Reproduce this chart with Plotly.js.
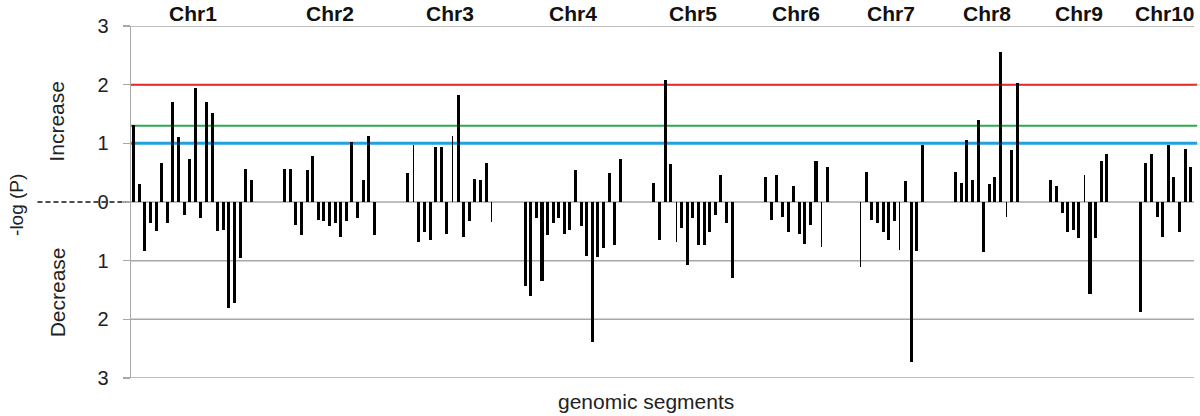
<!DOCTYPE html>
<html>
<head>
<meta charset="utf-8">
<script src="https://cdn.plot.ly/plotly-3.0.1.min.js"></script>
<style>
  html, body { margin: 0; padding: 0; background: #ffffff; }
  #chart { width: 1200px; height: 416px; }
</style>
</head>
<body>
<div id="chart"></div>
<script>
// ---- Data: signed -log(P) per genomic segment (positive = increase, negative = decrease)
const chromosomes = ['Chr1', 'Chr2', 'Chr3', 'Chr4', 'Chr5', 'Chr6', 'Chr7', 'Chr8', 'Chr9', 'Chr10'];
const chr1 = [1.31, 0.30, -0.84, -0.36, -0.49, 0.67, -0.36, 1.71, 1.10, -0.23, 0.73, 1.95, -0.28, 1.71, 1.52, -0.49, -0.47, -1.80, -1.72, -0.95, 0.57, 0.38];
const chr2 = [0.57, 0.57, -0.39, -0.57, 0.54, 0.78, -0.31, -0.33, -0.41, -0.36, -0.60, -0.33, 1.02, -0.28, 0.38, 1.13, -0.57];
const chr3 = [0.49, 0.97, -0.68, -0.51, -0.65, 0.94, 0.94, -0.54, 1.13, 1.82, -0.60, -0.32, 0.40, 0.38, 0.67, -0.34];
const chr4 = [-1.44, -1.60, -0.28, -1.35, -0.57, -0.36, -0.28, -0.54, -0.47, 0.54, -0.41, -0.92, -2.38, -0.94, -0.78, 0.49, -0.73, 0.74];
const chr5 = [0.33, -0.65, 2.08, 0.64, -0.68, -0.44, -1.07, -0.28, -0.73, -0.73, -0.51, -0.23, 0.46, -0.35, -1.29];
const chr6 = [0.43, -0.31, 0.46, -0.25, -0.51, 0.27, -0.54, -0.71, -0.39, 0.70, -0.76, 0.60];
const chr7 = [-1.11, 0.51, -0.31, -0.36, -0.51, -0.65, -0.32, -0.81, 0.35, -2.73, -0.84, 0.97];
const chr8 = [0.51, 0.33, 1.05, 0.38, 1.39, -0.86, 0.30, 0.43, 2.56, -0.25, 0.89, 2.03];
const chr9 = [0.38, 0.27, -0.19, -0.51, -0.48, -0.62, 0.46, -1.57, -0.62, 0.70, 0.81];
const chr10 = [-1.87, 0.67, 0.81, -0.25, -0.60, 0.97, 0.43, -0.51, 0.91, 0.60];
const chromValues = [chr1, chr2, chr3, chr4, chr5, chr6, chr7, chr8, chr9, chr10];

// significance thresholds (-log P)
const thresholdRed = 2;
const thresholdGreen = 1.3;
const thresholdBlue = 1;

// y tick labels (absolute values on both sides of zero)
const yTickVals = [-3, -2, -1, 0, 1, 2, 3];
const yTickText = ['3', '2', '1', '0', '1', '2', '3'];

// ---- Style constants
const GAP_SLOTS = 5;            // empty category slots between chromosomes
const BAR_W = 0.54;
const THIN_W = 0.22;
const thinBars = {2: [1, 8, 15], 4: [4], 5: [10], 6: [0, 7], 7: [9], 8: [6]}; // chromosome idx -> segment idx
const FONT = 'Liberation Sans, Arial, sans-serif';
const GRID = '#a8a8a8';

// ---- Build trace
const xs = [], ys = [], ws = [];
const labelAnn = [];
let pos = 0;
chromValues.forEach((vals, ci) => {
  const start = pos;
  vals.forEach((v, si) => {
    xs.push(pos);
    ys.push(v);
    const thin = thinBars[ci] && thinBars[ci].indexOf(si) >= 0;
    ws.push(thin ? THIN_W : BAR_W);
    pos++;
  });
  const end = pos - 1;
  labelAnn.push({
    text: '<b>' + chromosomes[ci] + '</b>',
    x: (start + end) / 2, xref: 'x',
    y: 1, yref: 'paper', yanchor: 'middle', yshift: 13,
    showarrow: false,
    font: {family: FONT, size: 21, color: '#111'}
  });
  pos += GAP_SLOTS;
});
const lastSlot = pos - GAP_SLOTS - 1;

const trace = {
  type: 'bar',
  x: xs,
  y: ys,
  width: ws,
  marker: {color: '#000000', line: {width: 0}},
  hoverinfo: 'x+y'
};

function hline(y, color, w, x1) {
  return {type: 'line', xref: 'paper', yref: 'y', x0: 0, x1: x1, y0: y, y1: y,
          line: {color: color, width: w}, layer: 'below'};
}

const gridShapes = yTickVals.map(v => hline(v, GRID, 1.5, 1));

const layout = {
  width: 1200,
  height: 416,
  margin: {l: 131, r: 6, t: 26, b: 38},
  paper_bgcolor: '#ffffff',
  plot_bgcolor: '#ffffff',
  showlegend: false,
  bargap: 0,
  xaxis: {
    range: [-0.5, lastSlot + 0.6],
    showticklabels: false,
    showgrid: false,
    zeroline: false,
    showline: false,
    ticks: ''
  },
  yaxis: {
    range: [-3, 3],
    tickvals: yTickVals,
    ticktext: yTickText,
    showgrid: false,
    zeroline: false,
    showline: true,
    linecolor: GRID,
    linewidth: 1.5,
    ticks: 'outside',
    ticklen: 7,
    tickwidth: 1.5,
    tickcolor: GRID,
    ticklabelstandoff: 10,
    tickfont: {family: FONT, size: 20, color: '#222'}
  },
  shapes: gridShapes.concat([
    hline(thresholdRed, '#e42a2a', 2, 1.003),
    hline(thresholdGreen, '#2fa84f', 2, 1.003),
    hline(thresholdBlue, '#1fa3dc', 3, 1.003),
    {type: 'line', xref: 'paper', yref: 'paper', x0: -0.088, x1: -0.005, y0: 0.5, y1: 0.5,
     line: {color: '#4d4d4d', width: 2, dash: '5px,3px'}, layer: 'above'}
  ]),
  annotations: labelAnn.concat([
    {text: 'Increase', textangle: -90, xref: 'paper', x: (57 - 131) / 1063, xanchor: 'center',
     yref: 'y', y: 1.37, yanchor: 'middle', showarrow: false,
     font: {family: FONT, size: 21, color: '#222'}},
    {text: 'Decrease', textangle: -90, xref: 'paper', x: (57 - 131) / 1063, xanchor: 'center',
     yref: 'y', y: -1.54, yanchor: 'middle', showarrow: false,
     font: {family: FONT, size: 21, color: '#222'}},
    {text: '-log (P)', textangle: -90, xref: 'paper', x: (17 - 131) / 1063, xanchor: 'center',
     yref: 'y', y: -0.05, yanchor: 'middle', showarrow: false,
     font: {family: FONT, size: 19, color: '#222'}},
    {text: 'genomic segments', xref: 'paper', x: (646 - 131) / 1063, xanchor: 'center',
     yref: 'paper', y: 0, yanchor: 'middle', yshift: -23, showarrow: false,
     font: {family: FONT, size: 21, color: '#222'}}
  ])
};

Plotly.newPlot('chart', [trace], layout, {displayModeBar: false, staticPlot: true});
</script>
</body>
</html>
